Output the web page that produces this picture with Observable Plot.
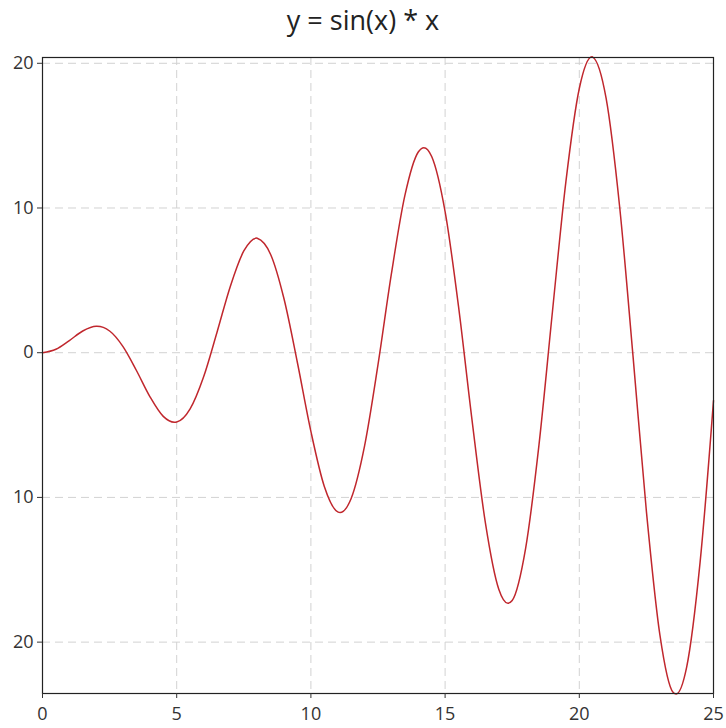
<!DOCTYPE html>
<html>
<head>
<meta charset="utf-8">
<script src="https://cdn.jsdelivr.net/npm/d3@7"></script>
<script src="https://cdn.jsdelivr.net/npm/@observablehq/plot@0.6"></script>
<style>
  body { margin: 0; background: #fff; }
  #title { height: 44px; line-height: 40px; text-align: center; font-family: "Open Sans", sans-serif; font-size: 27px; color: #222; }
</style>
</head>
<body>
<div id="title">y = sin(x) * x</div>
<div id="chart"></div>
<script>
const xs = [0, 0.5, 1, 1.5, 2, 2.03, 2.5, 3, 3.5, 4, 4.5, 4.91, 5, 5.5, 6, 6.5, 7, 7.5, 7.98, 8, 8.5, 9, 9.5, 10, 10.5, 11, 11.09, 11.5, 12, 12.5, 13, 13.5, 14, 14.21, 14.5, 15, 15.5, 16, 16.5, 17, 17.34, 17.5, 18, 18.5, 19, 19.5, 20, 20.47, 20.5, 21, 21.5, 22, 22.5, 23, 23.5, 23.61, 24, 24.5, 25];
const ys = [0, 0.24, 0.84, 1.50, 1.82, 1.82, 1.50, 0.42, -1.23, -3.03, -4.40, -4.81, -4.79, -3.88, -1.68, 1.40, 4.60, 7.03, 7.92, 7.91, 6.79, 3.71, -0.71, -5.44, -9.24, -11.00, -11.04, -10.07, -6.44, -0.83, 5.46, 10.85, 13.87, 14.17, 13.56, 9.75, 3.20, -4.61, -11.74, -16.34, -17.31, -17.12, -13.52, -6.33, 2.85, 11.81, 18.26, 20.45, 20.43, 17.57, 10.14, -0.20, -10.96, -19.46, -23.48, -23.58, -21.73, -14.49, -3.31];
const xTicks = [0, 5, 10, 15, 20, 25];
const yTicks = [-20, -10, 0, 10, 20];

const data = xs.map((x, i) => ({x, y: ys[i]}));

const chart = Plot.plot({
  width: 726,
  height: 684,
  marginTop: 13,
  marginBottom: 35,
  marginLeft: 42,
  marginRight: 13,
  style: {fontFamily: "'Open Sans', sans-serif", fontSize: "18px", color: "#333", background: "#fff"},
  x: {domain: [0, 25]},
  y: {domain: [-23.55, 20.4]},
  marks: [
    Plot.gridX(xTicks.slice(1, -1), {stroke: "#d2d2d2", strokeOpacity: 1, strokeDasharray: "8,5"}),
    Plot.gridY(yTicks, {stroke: "#d2d2d2", strokeOpacity: 1, strokeDasharray: "8,5"}),
    Plot.line(data, {x: "x", y: "y", stroke: "#c0272d", strokeWidth: 1.5, curve: "monotone-x"}),
    Plot.frame({stroke: "#222", strokeWidth: 1.2}),
    Plot.axisX(xTicks, {tickSize: 5, tickPadding: 9, label: null, tickFormat: d => String(d), fontSize: 18}),
    Plot.axisY(yTicks, {tickSize: 5, tickPadding: 4, label: null, tickFormat: d => String(Math.abs(d)), fontSize: 18})
  ]
});
document.getElementById("chart").appendChild(chart);
</script>
</body>
</html>
